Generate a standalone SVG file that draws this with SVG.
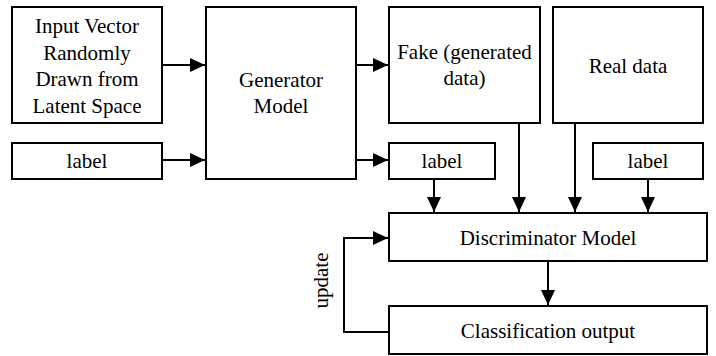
<svg xmlns="http://www.w3.org/2000/svg" width="716" height="356" viewBox="0 0 716 356">
<style>
text{font-family:'Liberation Serif','Times New Roman',serif;font-size:21px;fill:#000;text-anchor:middle}
.box{fill:#fff;stroke:#000;stroke-width:2}
.c{fill:none;stroke:#000;stroke-width:2}
</style>
<defs>
<marker id="ah" markerUnits="userSpaceOnUse" markerWidth="15" markerHeight="14" refX="15" refY="7" orient="auto">
<path d="M0,0 L15,7 L0,14 Z" fill="#000"/>
</marker>
</defs>
<rect width="716" height="356" fill="#fff"/>
<g id="connectors">
<path class="c" d="M162,65 H205" marker-end="url(#ah)"/>
<path class="c" d="M162,160 H205" marker-end="url(#ah)"/>
<path class="c" d="M356,65 H388" marker-end="url(#ah)"/>
<path class="c" d="M356,160 H388" marker-end="url(#ah)"/>
<path class="c" d="M434,179 V212" marker-end="url(#ah)"/>
<path class="c" d="M519,123 V212" marker-end="url(#ah)"/>
<path class="c" d="M575,123 V212" marker-end="url(#ah)"/>
<path class="c" d="M648,179 V212" marker-end="url(#ah)"/>
<path class="c" d="M548,261 V305" marker-end="url(#ah)"/>
<path class="c" d="M389,332 H344 V238 H388" marker-end="url(#ah)"/>
<text transform="translate(328,280.5) rotate(-90)">update</text>
</g>
<g id="input">
<rect class="box" x="12" y="7" width="150" height="116"/>
<text x="87" y="33">Input Vector</text>
<text x="87" y="59.5">Randomly</text>
<text x="87" y="86">Drawn from</text>
<text x="87" y="112.5">Latent Space</text>
</g>
<g id="label1">
<rect class="box" x="12" y="143" width="150" height="36"/>
<text x="87" y="168">label</text>
</g>
<g id="generator">
<rect class="box" x="206" y="7" width="150" height="172"/>
<text x="281" y="87">Generator</text>
<text x="281" y="113">Model</text>
</g>
<g id="fake">
<rect class="box" x="389" y="7" width="151" height="116"/>
<text x="464.5" y="59">Fake (generated</text>
<text x="464.5" y="85">data)</text>
</g>
<g id="real">
<rect class="box" x="553" y="7" width="150" height="116"/>
<text x="628" y="73">Real data</text>
</g>
<g id="label2">
<rect class="box" x="389" y="143" width="106" height="36"/>
<text x="442" y="168">label</text>
</g>
<g id="label3">
<rect class="box" x="593" y="143" width="110" height="36"/>
<text x="648" y="168">label</text>
</g>
<g id="discriminator">
<rect class="box" x="389" y="213" width="318" height="48"/>
<text x="548" y="245">Discriminator Model</text>
</g>
<g id="classification">
<rect class="box" x="389" y="306" width="318" height="48"/>
<text x="548" y="338">Classification output</text>
</g>
</svg>
